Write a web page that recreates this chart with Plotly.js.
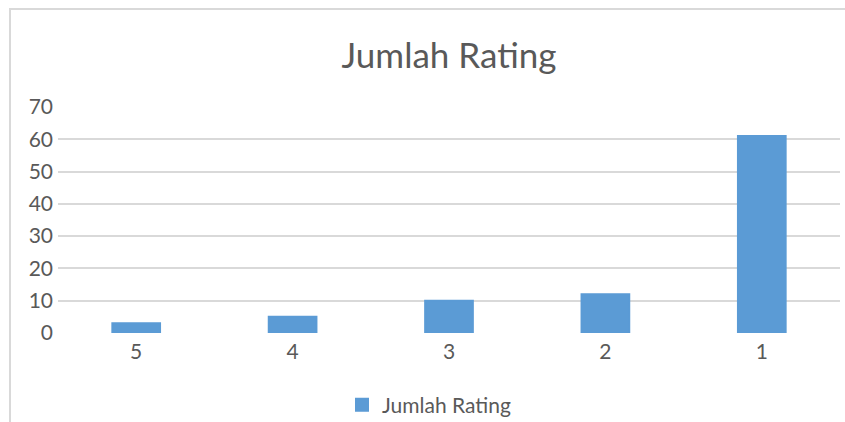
<!DOCTYPE html>
<html>
<head>
<meta charset="utf-8">
<script src="https://cdn.plot.ly/plotly-3.0.1.min.js"></script>
<style>
html,body{margin:0;padding:0;background:#fff;}
#wrap{position:relative;width:845px;height:422px;overflow:hidden;}
#chart{position:absolute;left:0;top:0;width:845px;height:422px;}
#frame{position:absolute;left:9px;top:8px;width:900px;height:500px;border-top:2px solid #d9d9d9;border-left:2px solid #d9d9d9;pointer-events:none;}
</style>
</head>
<body>
<div id="wrap"><div id="chart"></div><div id="frame"></div></div>
<script>
const categories = ["5", "4", "3", "2", "1"];
const values = [3, 5, 10, 12, 61];
const seriesName = "Jumlah Rating";
const chartTitle = "Jumlah Rating";
const yTicks = [0, 10, 20, 30, 40, 50, 60, 70];

const font = "Lato, 'Open Sans', sans-serif";
const data = [{
  type: "bar",
  x: categories,
  y: values,
  name: seriesName,
  marker: {color: "#5B9BD5", line: {color: "#5B9BD5", width: 2}},
  width: 0.305,
  showlegend: true,
  hoverinfo: "x+y"
}];
const layout = {
  width: 845, height: 422,
  margin: {l: 58, r: 5, t: 107, b: 89, autoexpand: false},
  paper_bgcolor: "#fff", plot_bgcolor: "#fff",
  font: {family: font, color: "#595959", size: 21},
  title: {text: chartTitle, x: 0.5, xanchor: "center", xref: "paper", y: 1 - 56/422, yref: "container", yanchor: "middle",
          font: {family: font, size: 35, color: "#595959"}},
  xaxis: {type: "category", showgrid: false, zeroline: false, showline: false, ticks: "", ticklen: 0,
          tickfont: {size: 21, color: "#595959"}, ticklabelstandoff: 4, fixedrange: true, automargin: false},
  yaxis: {range: [0, 70], tickvals: yTicks, showgrid: true, gridcolor: "#d9d9d9", gridwidth: 2,
          zeroline: false, showline: false, ticks: "", tickfont: {size: 21, color: "#595959"}, ticklabelstandoff: 4, fixedrange: true, automargin: false},
  showlegend: true,
  legend: {orientation: "h", x: 0.5 - 20/782, xanchor: "center", xref: "paper", y: 1 - 405/422, yref: "container", yanchor: "middle",
           font: {size: 21, color: "#595959"}, itemwidth: 30},
  bargap: 0.68
};
Plotly.newPlot("chart", data, layout, {displayModeBar: false, staticPlot: true});
</script>
</body>
</html>
